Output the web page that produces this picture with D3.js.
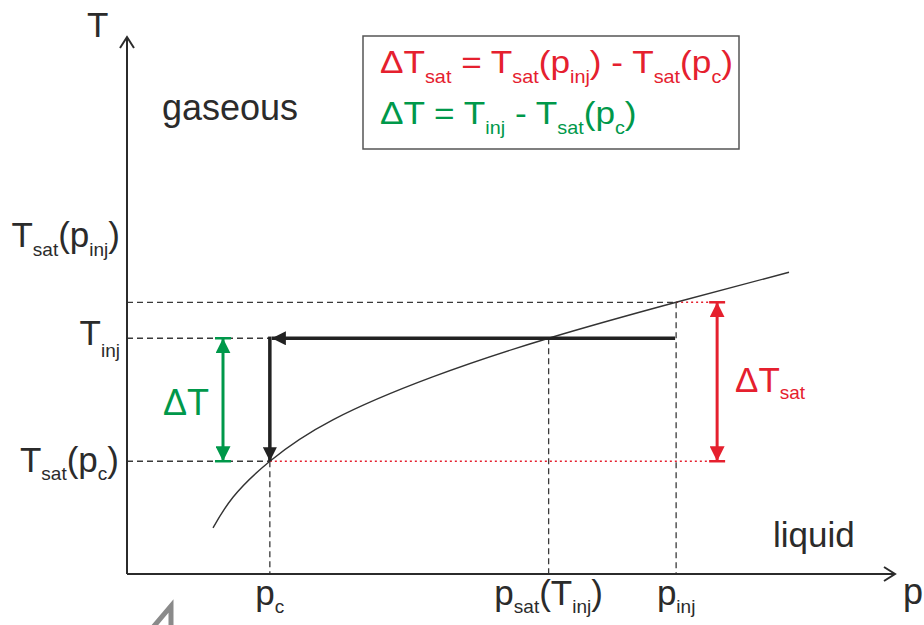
<!DOCTYPE html>
<html>
<head>
<meta charset="utf-8">
<script src="https://cdn.jsdelivr.net/npm/d3@7"></script>
<style>
  body { margin:0; background:#fff; }
  svg { display:block; font-family:"Liberation Sans", Arial, sans-serif; }
</style>
</head>
<body>
<svg id="chart" width="924" height="625"></svg>
<script>
// pressure / temperature levels (arbitrary units, 0..100)
var pLevels = { pc: 18.6, psat: 54.9, pinj: 71.5 };
var tLevels = { tsatPc: 21.0, tinj: 43.9, tsatPinj: 50.6 };

// saturation curve
var curveP = [11.2, 13.8, 18.6, 26.8, 39.8, 54.9, 71.5, 86.2];
var curveT = [8.6, 14.3, 21.0, 28.7, 36.7, 43.9, 50.6, 56.2];

var dark = "#2b2b2b", red = "#e5202e", green = "#00984a";

var svg = d3.select("#chart");
var x = d3.scaleLinear().domain([0, 100]).range([127, 895]);
var y = d3.scaleLinear().domain([0, 100]).range([574, 37]);

// markers
var defs = svg.append("defs");
function marker(id, color, w, h) {
  defs.append("marker").attr("id", id)
    .attr("viewBox", "0 0 10 10").attr("refX", 10).attr("refY", 5)
    .attr("markerUnits", "userSpaceOnUse")
    .attr("markerWidth", w).attr("markerHeight", h)
    .attr("orient", "auto-start-reverse")
    .append("path").attr("d", "M0,0L10,5L0,10z").attr("fill", color);
}
marker("arrBlack", "#222", 15, 14);
marker("arrGreen", green, 15, 15);
marker("arrRed", red, 15, 15);

function seg(x1, y1, x2, y2) {
  return svg.append("line").attr("x1", x1).attr("y1", y1).attr("x2", x2).attr("y2", y2);
}
function dashed(x1, y1, x2, y2) {
  return seg(x1, y1, x2, y2).attr("stroke", "#3a3a3a").attr("stroke-width", 1.3).attr("stroke-dasharray", "6,4");
}
function dotted(x1, y1, x2, y2) {
  return seg(x1, y1, x2, y2).attr("stroke", red).attr("stroke-width", 1.4).attr("stroke-dasharray", "2,3");
}

// guide lines
dashed(x(0), y(tLevels.tsatPinj), x(pLevels.pinj), y(tLevels.tsatPinj));
dashed(x(0), y(tLevels.tinj), x(pLevels.pc), y(tLevels.tinj));
dashed(x(0), y(tLevels.tsatPc), x(pLevels.pc), y(tLevels.tsatPc));
dashed(x(pLevels.pc), y(tLevels.tsatPc), x(pLevels.pc), y(0));
dashed(x(pLevels.psat), y(tLevels.tinj), x(pLevels.psat), y(0));
dashed(x(pLevels.pinj), y(tLevels.tsatPinj), x(pLevels.pinj), y(0));
dotted(x(pLevels.pc), y(tLevels.tsatPc), x(pLevels.pinj) + 48, y(tLevels.tsatPc));
dotted(x(pLevels.pinj), y(tLevels.tsatPinj), x(pLevels.pinj) + 34, y(tLevels.tsatPinj));

// axes
var axisG = svg.append("g").attr("fill", "none").attr("stroke", dark).attr("stroke-width", 2);
axisG.append("path").attr("d", d3.line()([[x(0), y(0)], [x(0), y(100)]]));
axisG.append("path").attr("d", d3.line()([[x(0), y(0)], [x(100), y(0)]]));
axisG.append("path").attr("d", d3.line()([[x(0) - 7, y(100) + 11], [x(0), y(100)], [x(0) + 7, y(100) + 11]]));
axisG.append("path").attr("d", d3.line()([[x(100) - 11, y(0) - 7], [x(100), y(0)], [x(100) - 11, y(0) + 7]]));

// saturation curve
var pts = curveP.map(function (p, i) { return [x(p), y(curveT[i])]; });
svg.append("path").attr("d", d3.line().curve(d3.curveNatural)(pts))
  .attr("fill", "none").attr("stroke", "#333").attr("stroke-width", 1.4);

// process arrows
seg(x(pLevels.pinj) - 1, y(tLevels.tinj), x(pLevels.pc) + 2, y(tLevels.tinj))
  .attr("stroke", "#222").attr("stroke-width", 3.5).attr("marker-end", "url(#arrBlack)");
seg(x(pLevels.pc), y(tLevels.tinj) - 1.7, x(pLevels.pc), y(tLevels.tsatPc))
  .attr("stroke", "#222").attr("stroke-width", 3.5).attr("marker-end", "url(#arrBlack)");

function dbl(px, t1, t2, color, id) {
  seg(px, y(t1), px, y(t2)).attr("stroke", color).attr("stroke-width", 3)
    .attr("marker-start", "url(#" + id + ")").attr("marker-end", "url(#" + id + ")");
  seg(px - 8, y(t1), px + 8, y(t1)).attr("stroke", color).attr("stroke-width", 2.5);
  seg(px - 8, y(t2), px + 8, y(t2)).attr("stroke", color).attr("stroke-width", 2.5);
}
dbl(223, tLevels.tinj, tLevels.tsatPc, green, "arrGreen");
dbl(x(pLevels.pinj) + 41, tLevels.tsatPinj, tLevels.tsatPc, red, "arrRed");

// text with subscripts: parts = [[text, isSub], ...]
function label(px, py, parts, opts) {
  opts = opts || {};
  var size = opts.size || 35, sub = opts.sub || 19, drop = opts.drop || 8;
  var t = svg.append("text").attr("x", px).attr("y", py)
    .attr("font-size", size).attr("fill", opts.color || dark)
    .attr("text-anchor", opts.anchor || "start");
  var down = false;
  parts.forEach(function (d) {
    var s = t.append("tspan").text(d[0]);
    if (d[1]) { s.attr("font-size", sub); if (!down) { s.attr("dy", drop); down = true; } }
    else { s.attr("font-size", size); if (down) { s.attr("dy", -drop); down = false; } }
  });
  if (opts.scaleX) t.attr("transform", "translate(" + px + "," + py + ") scale(" + opts.scaleX + ",1) translate(" + (-px) + "," + (-py) + ")");
  return t;
}

label(87, 37, [["T"]], { size: 35 });
label(903, 604, [["p"]], { size: 36 });
label(162, 120, [["gaseous"]], { size: 36 });
label(773, 547, [["liquid"]], { size: 35 });

label(120, y(tLevels.tsatPinj) - 55, [["T"], ["sat", 1], ["(p"], ["inj", 1], [")"]], { anchor: "end", drop: 9 });
label(120, y(tLevels.tinj) + 7, [["T"], ["inj", 1]], { anchor: "end", drop: 12 });
label(119, y(tLevels.tsatPc) + 11, [["T"], ["sat", 1], ["(p"], ["c", 1], [")"]], { anchor: "end", drop: 8 });

label(x(pLevels.pc), 605, [["p"], ["c", 1]], { anchor: "middle" });
label(x(pLevels.psat), 605, [["p"], ["sat", 1], ["(T"], ["inj", 1], [")"]], { anchor: "middle" });
label(x(pLevels.pinj), 605, [["p"], ["inj", 1]], { anchor: "middle" });

label(163, 415, [["ΔT"]], { size: 36, color: green });
label(735, 392, [["ΔT"], ["sat", 1]], { size: 35, color: red, drop: 7 });

// legend box
svg.append("rect").attr("x", 363).attr("y", 36).attr("width", 376).attr("height", 113)
  .attr("fill", "#fff").attr("stroke", "#555").attr("stroke-width", 1.5);
label(380, 73, [["ΔT"], ["sat", 1], [" = T"], ["sat", 1], ["(p"], ["inj", 1], [") - T"], ["sat", 1], ["(p"], ["c", 1], [")"]],
  { size: 32, sub: 18, drop: 10, color: red, scaleX: 1.1 });
label(380, 124, [["ΔT = T"], ["inj", 1], [" - T"], ["sat", 1], ["(p"], ["c", 1], [")"]],
  { size: 32, sub: 18, drop: 10, color: green, scaleX: 1.1 });

// cropped grey mark at bottom edge
svg.append("path").attr("d", "M149,632L171,606L171,632").attr("fill", "none")
  .attr("stroke", "#8a8a8a").attr("stroke-width", 5);
</script>
</body>
</html>
